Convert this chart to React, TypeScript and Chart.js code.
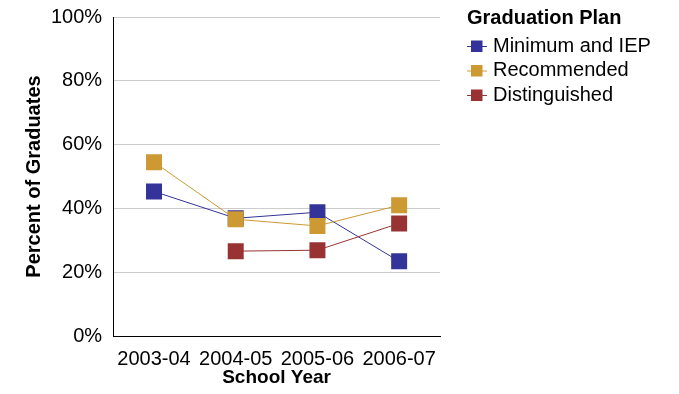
import React, { useEffect, useRef } from "react";
import { Chart, registerables } from "chart.js";

Chart.register(...registerables);

const categories = ["2003-04", "2004-05", "2005-06", "2006-07"];
const minimumIEP = [45.3, 36.9, 38.8, 23.4];
const recommended = [54.5, 36.6, 34.5, 41.0];
const distinguished = [null, 26.6, 26.9, 35.3];
const seriesNames = ["Minimum and IEP", "Recommended", "Distinguished"];
const seriesColors = ["#333399", "#CC9933", "#993333"];
const seriesOrder = [2, 0, 1];
const yTicks = [0, 20, 40, 60, 80, 100];
const legendTitle = "Graduation Plan";

const FONT = "'Liberation Sans', Arial, sans-serif";

const legendPlugin = {
  id: "customLegend",
  afterDraw(chart: any) {
    const ctx = chart.ctx;
    const x0 = 467;
    ctx.save();
    ctx.fillStyle = "#000";
    ctx.textBaseline = "middle";
    ctx.textAlign = "left";
    ctx.font = `bold 20px ${FONT}`;
    ctx.fillText(legendTitle, x0, 18);
    ctx.font = `20px ${FONT}`;
    chart.data.datasets.forEach((ds: any, i: number) => {
      const y = 46 + i * 24.5;
      ctx.strokeStyle = ds.borderColor;
      ctx.lineWidth = 1;
      ctx.beginPath();
      ctx.moveTo(x0, y + 0.5);
      ctx.lineTo(x0 + 20, y + 0.5);
      ctx.stroke();
      ctx.fillStyle = ds.backgroundColor;
      ctx.fillRect(x0 + 4, y - 5.5, 11.5, 11.5);
      ctx.fillStyle = "#000";
      ctx.fillText(ds.label, x0 + 26, y);
    });
    ctx.restore();
  },
};

export default function App() {
  const ref = useRef<HTMLCanvasElement>(null);
  useEffect(() => {
    const series = [minimumIEP, recommended, distinguished];
    const chart = new Chart(ref.current!, {
      type: "line",
      data: {
        labels: categories,
        datasets: series.map((d, i) => ({
          label: seriesNames[i],
          data: d as any,
          order: seriesOrder[i],
          borderColor: seriesColors[i],
          backgroundColor: seriesColors[i],
          borderWidth: 1,
          pointStyle: "rect",
          pointRadius: 11.3,
          pointHoverRadius: 11.3,
          pointBorderWidth: 0,
          pointBackgroundColor: seriesColors[i],
          tension: 0,
          spanGaps: false,
        })),
      },
      options: {
        animation: false,
        responsive: false,
        maintainAspectRatio: false,
        layout: { autoPadding: false, padding: { left: 8, right: 239, top: 17, bottom: 7 } },
        plugins: {
          legend: { display: false },
          tooltip: { enabled: false },
        },
        scales: {
          x: {
            offset: true,
            grid: { display: false, drawTicks: false },
            border: { color: "#000", width: 1 },
            afterFit: (scale: any) => {
              scale.paddingLeft = 0;
              scale.paddingRight = 0;
            },
            ticks: {
              color: "#000",
              font: { family: FONT, size: 20 },
              padding: 11,
              maxRotation: 0,
              autoSkip: false,
            },
            title: {
              display: true,
              text: "School Year",
              color: "#000",
              font: { family: FONT, size: 19, weight: "bold", lineHeight: 1 },
              padding: { top: -14, bottom: 0 },
            },
          },
          y: {
            min: 0,
            max: 100,
            afterBuildTicks: (axis: any) => {
              axis.ticks = yTicks.map((v) => ({ value: v }));
            },
            afterFit: (scale: any) => {
              scale.paddingTop = 0;
              scale.paddingBottom = 0;
            },
            grid: { color: "#cccccc", drawTicks: false, lineWidth: 1 },
            border: { color: "#000", width: 1 },
            ticks: {
              color: "#000",
              font: { family: FONT, size: 20 },
              padding: 11,
              callback: (v: any) => `${v}%`,
            },
            title: {
              display: true,
              text: "Percent of Graduates",
              color: "#000",
              font: { family: FONT, size: 20, weight: "bold" },
              padding: { top: 14, bottom: -6 },
            },
          },
        },
      },
      plugins: [legendPlugin],
    });
    return () => chart.destroy();
  }, []);
  return (
    <div style={{ position: "fixed", left: 0, top: 0, width: 679, height: 394, background: "#fff" }}>
      <canvas ref={ref} width={679} height={394} style={{ width: 679, height: 394, display: "block" }} />
    </div>
  );
}
